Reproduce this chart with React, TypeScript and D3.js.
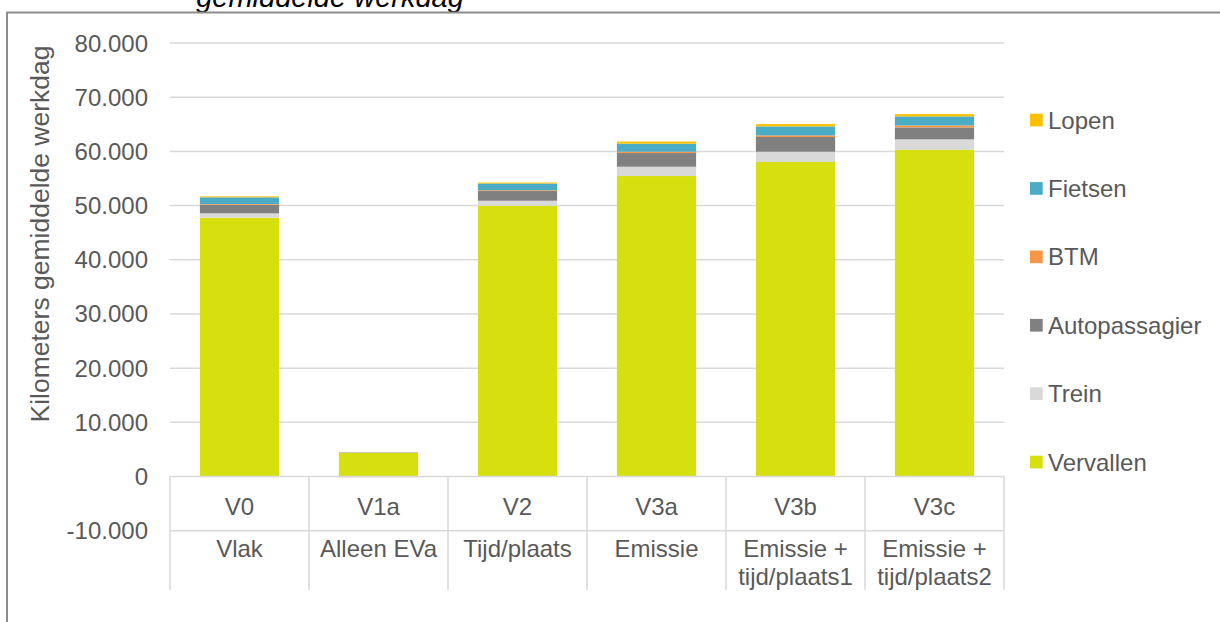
import React from "react";
import * as d3 from "d3";

const categories = ["V0", "V1a", "V2", "V3a", "V3b", "V3c"];
const groupLabels: string[][] = [
  ["Vlak"],
  ["Alleen EVa"],
  ["Tijd/plaats"],
  ["Emissie"],
  ["Emissie +", "tijd/plaats1"],
  ["Emissie +", "tijd/plaats2"],
];
const seriesNames = ["Vervallen", "Trein", "Autopassagier", "BTM", "Fietsen", "Lopen"];
const seriesColors = ["#D7E00F", "#D9D9D9", "#808080", "#F79646", "#4BACC6", "#FFC000"];
const vervallen = [47760, 4350, 49970, 55450, 58040, 60310];
const trein = [810, -120, 920, 1720, 1900, 1900];
const autopassagier = [1590, 80, 1790, 2520, 2710, 2210];
const btm = [130, -40, 150, 250, 300, 370];
const fietsen = [1230, 0, 1240, 1480, 1660, 1660];
const lopen = [180, 0, 180, 400, 430, 430];
const yTicks = [-10000, 0, 10000, 20000, 30000, 40000, 50000, 60000, 70000, 80000];
const titleText = "gemiddelde werkdag";
const yAxisTitle = "Kilometers gemiddelde werkdag";

const W = 1220;
const H = 622;
const FONT = "'Liberation Sans', Arial, sans-serif";
const TXT = "#595959";
const GRID = "#D9D9D9";

export default function App() {
  const seriesValues = [vervallen, trein, autopassagier, btm, fietsen, lopen];
  const rows = categories.map((c, i) => {
    const r: any = { cat: c };
    seriesNames.forEach((s, j) => (r[s] = seriesValues[j][i]));
    return r;
  });
  const stacked = d3
    .stack<any>()
    .keys(seriesNames)
    .offset(d3.stackOffsetDiverging)(rows);

  const x = d3
    .scaleBand<string>()
    .domain(categories)
    .range([170, 1004])
    .paddingInner(0.43)
    .paddingOuter(0.215);
  const y = d3.scaleLinear().domain([0, 80000]).range([476.5, 43]);
  const fmt = (v: number) =>
    v === 0 ? "0" : (v < 0 ? "-" : "") + d3.format(",")(Math.abs(v)).replace(/,/g, ".");
  const step = x.step();
  const left = 170;
  const right = 1004;
  const y0 = y(0);
  const yBottom = 590;

  const legendOrder = [...seriesNames].reverse();

  return (
    <svg
      width={W}
      height={H}
      style={{ position: "absolute", left: 0, top: 0, background: "#fff" }}
      fontFamily={FONT}
    >
      <rect x={0} y={0} width={W} height={H} fill="#fff" />
      {/* title (cut at top, as in the source) */}
      <text x={330} y={7} textAnchor="middle" fontSize={29} fontStyle="italic" fill="#000">
        {titleText}
      </text>
      {/* frame */}
      <path d={`M7,${H} V12.5 H${W}`} fill="none" stroke="#8C8C8C" strokeWidth={2} />
      {/* gridlines */}
      {yTicks
        .filter((t) => t !== 0)
        .map((t) => (
          <line key={t} x1={left} x2={right} y1={y(t)} y2={y(t)} stroke={GRID} strokeWidth={1.5} />
        ))}
      {/* bars */}
      {stacked.map((s, si) => (
        <g key={s.key} fill={seriesColors[si]}>
          {s.map((d, i) => {
            const top = Math.min(y(d[0]), y(d[1]));
            const h = Math.abs(y(d[0]) - y(d[1]));
            if (h <= 0) return null;
            return (
              <rect
                key={i}
                x={x(categories[i])}
                y={top}
                width={x.bandwidth()}
                height={h}
              />
            );
          })}
        </g>
      ))}
      {/* category axis table */}
      <line x1={left} x2={right} y1={y0} y2={y0} stroke={GRID} strokeWidth={1.5} />
      {categories.map((c, i) => (
        <line
          key={"v" + i}
          x1={left + i * step}
          x2={left + i * step}
          y1={y0}
          y2={yBottom}
          stroke={GRID}
          strokeWidth={1.5}
        />
      ))}
      <line x1={right} x2={right} y1={y0} y2={yBottom} stroke={GRID} strokeWidth={1.5} />
      {categories.map((c, i) => (
        <text
          key={"c" + i}
          x={left + (i + 0.5) * step}
          y={514.5}
          textAnchor="middle"
          fontSize={24}
          fill={TXT}
        >
          {c}
        </text>
      ))}
      {groupLabels.map((lines, i) => (
        <text
          key={"g" + i}
          x={left + (i + 0.5) * step}
          y={556.5}
          textAnchor="middle"
          fontSize={24}
          fill={TXT}
        >
          {lines.map((l, k) => (
            <tspan key={k} x={left + (i + 0.5) * step} dy={k === 0 ? 0 : 28.7}>
              {l}
            </tspan>
          ))}
        </text>
      ))}
      {/* y tick labels */}
      {yTicks.map((t) => (
        <text key={"t" + t} x={148} y={y(t) + 8.5} textAnchor="end" fontSize={24} fill={TXT}>
          {fmt(t)}
        </text>
      ))}
      {/* y axis title */}
      <text
        transform={`translate(49,${234}) rotate(-90)`}
        textAnchor="middle"
        fontSize={26.5}
        fill={TXT}
      >
        {yAxisTitle}
      </text>
      {/* legend */}
      {legendOrder.map((name, i) => {
        const cy = 120 + i * 68.4;
        const col = seriesColors[seriesNames.indexOf(name)];
        return (
          <g key={name}>
            <rect x={1030} y={cy - 6.3} width={12.7} height={12.7} fill={col} />
            <text x={1048} y={cy + 8.5} fontSize={24} fill={TXT}>
              {name}
            </text>
          </g>
        );
      })}
    </svg>
  );
}
